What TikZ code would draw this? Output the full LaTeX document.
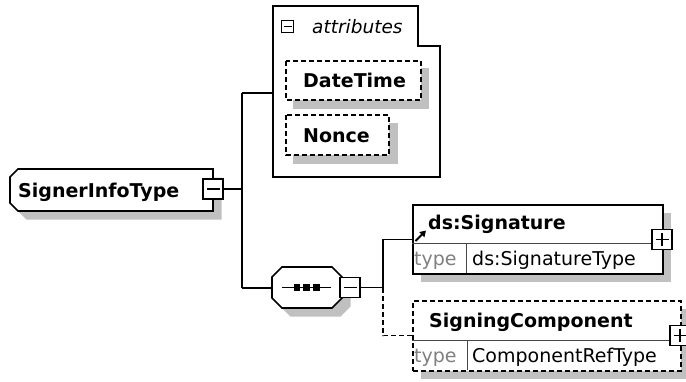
\documentclass[tikz,border=0pt]{standalone}
\usepackage{fontspec}
\setmainfont{DejaVu Sans}
\usetikzlibrary{arrows.meta}
\definecolor{shadowgray}{RGB}{192,192,192}
\definecolor{typegray}{RGB}{128,128,128}
\definecolor{rulegray}{RGB}{70,70,70}

\begin{document}
\begin{tikzpicture}[x=1pt,y=-1pt,
  edge/.style={line width=1.6pt},
  optedge/.style={edge, dash pattern=on 5pt off 3pt},
  outline/.style={draw, line width=1.6pt, fill=white},
  optoutline/.style={outline, dash pattern=on 5pt off 3pt},
  shadowfill/.style={fill=shadowgray, draw=none},
  shadowshift/.style={shift={(8.5,8.5)}},
  toggle/.style={draw, line width=1.3pt, fill=white, minimum size=20pt, inner sep=0pt},
  togglemark/.style={line width=1.3pt},
  divider/.style={draw=rulegray, line width=1pt},
  txt/.style={anchor=base west, inner sep=0pt, font=\fontsize{19}{22}\selectfont},
  bold/.style={txt, font=\fontsize{19}{22}\selectfont\bfseries},
  typetxt/.style={txt, text=typegray},
]
\useasboundingbox (0,0) rectangle (686,381);

% ---------- root element: SignerInfoType ----------
\path[shadowfill, shadowshift] (18,169) -- (213,169) -- (213,211) -- (18,211) -- (10,203) -- (10,177) -- cycle;
\draw[outline] (18,169) -- (213,169) -- (213,211) -- (18,211) -- (10,203) -- (10,177) -- cycle;
\node[bold] (root) at (18,197) {SignerInfoType};
\node[toggle] (roottg) at (213,189) {};
\draw[togglemark] ([xshift=-6.5pt]roottg.center) -- ([xshift=6.5pt]roottg.center);

% ---------- attributes group ----------
\draw[line width=1.6pt] (273,6) -- (418,6) -- (418,46) -- (440,46) -- (440,177) -- (273,177) -- cycle;
\node[draw, line width=1.2pt, minimum size=12pt, inner sep=0pt] (attrtg) at (287.5,26.5) {};
\draw[line width=1.2pt] ([xshift=-4pt]attrtg.center) -- ([xshift=4pt]attrtg.center);
\node[txt, font=\fontsize{18.5}{22}\selectfont\itshape] (attrlbl) at (312,33) {attributes};
\coordinate (attrin) at (273,93);

% DateTime
\path[shadowfill] (293,68) rectangle (429,108.5);
\draw[optoutline] (286,61) rectangle (421,100);
\node[bold] (datetime) at (303,87) {DateTime};
% Nonce
\path[shadowfill] (293,123) rectangle (397.5,163.5);
\draw[optoutline] (286,115) rectangle (389,155);
\node[bold] (nonce) at (303,142) {Nonce};

% ---------- sequence compositor ----------
\path[shadowfill, shadowshift] (282,267) -- (332,267) -- (342,277) -- (342,298) -- (332,308) -- (282,308) -- (272,298) -- (272,277) -- cycle;
\draw[outline] (282,267) -- (332,267) -- (342,277) -- (342,298) -- (332,308) -- (282,308) -- (272,298) -- (272,277) -- cycle;
\coordinate (seqin) at (272,288);
\coordinate (seqa) at (282,287.5);
\coordinate (seqb) at (331,287.5);
\draw[line width=1.4pt] (seqa) -- (seqb);
\foreach \cx in {296.7,306.3,316.3}
  \fill (\cx-3.2,284.3) rectangle (\cx+3.2,290.7);
\node[toggle] (seqtg) at (350,287.5) {};
\draw[togglemark] ([xshift=-6.5pt]seqtg.center) -- ([xshift=6.5pt]seqtg.center);

% ---------- ds:Signature ----------
\path[shadowfill] (420.5,212.5) rectangle (670.5,281.5);
\node[outline, anchor=north west, minimum width=250pt, minimum height=69pt, inner sep=0pt] (sig) at (412,204) {};
\draw[divider] (412,243) -- (662,243);
\draw[divider] (466,243) -- (466,273);
\node[bold] (siglbl) at (428,229) {ds:Signature};
\node[typetxt] (sigtype) at (414,265) {type};
\node[txt] (sigtypename) at (472,265) {ds:SignatureType};
\draw[line width=2pt, -{Triangle[length=6pt,width=7pt]}] (415.5,241) -- (426,230.5);
\node[toggle] (sigtg) at (662,239.5) {};
\draw[togglemark] ([xshift=-6.5pt]sigtg.center) -- ([xshift=6.5pt]sigtg.center)
  ([yshift=-6.5pt]sigtg.center) -- ([yshift=6.5pt]sigtg.center);

% ---------- SigningComponent ----------
\path[shadowfill] (420.5,308.5) rectangle (688.5,378.5);
\node[optoutline, anchor=north west, minimum width=268pt, minimum height=70pt, inner sep=0pt] (comp) at (412,300) {};
\draw[divider] (412,340) -- (680,340);
\draw[divider] (467,340) -- (467,370);
\node[bold] (complbl) at (429,327) {SigningComponent};
\node[typetxt] (comptype) at (414,362) {type};
\node[txt] (comptypename) at (472,362) {ComponentRefType};
\node[toggle] (comptg) at (680,335.5) {};
\draw[togglemark] ([xshift=-6.5pt]comptg.center) -- ([xshift=6.5pt]comptg.center)
  ([yshift=-6.5pt]comptg.center) -- ([yshift=6.5pt]comptg.center);

% ---------- connectors ----------
\coordinate (fork) at (242,189);
\coordinate (forktop) at (242,93);
\coordinate (forkbot) at (242,288);
\draw[edge] (roottg.east) -- (fork);
\draw[edge] (forktop) -- (forkbot);
\draw[edge] (forktop) -- (attrin);
\draw[edge] (forkbot) -- (seqin);

\coordinate (seqfork) at (383,287.5);
\draw[edge] (seqtg.east) -- (seqfork);
\draw[edge] (seqfork) -- (seqfork |- sigtg) -- (sig.west |- sigtg);
\draw[optedge] (seqfork) -- (seqfork |- comptg) -- (comp.west |- comptg);
\end{tikzpicture}
\end{document}
